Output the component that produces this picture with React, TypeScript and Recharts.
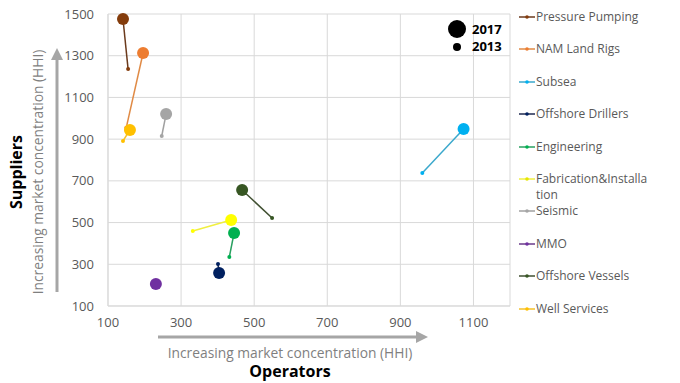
import { ScatterChart, Scatter, XAxis, YAxis, CartesianGrid } from 'recharts';

// HHI values per segment: [operators, suppliers] for 2013 and 2017
const segments = [
  'Pressure Pumping',
  'NAM Land Rigs',
  'Subsea',
  'Offshore Drillers',
  'Engineering',
  'Fabrication&Installation',
  'Seismic',
  'MMO',
  'Offshore Vessels',
  'Well Services',
];
const operators2013 = [155, 150, 960, 401, 432, 332, 247, null, 549, 141];
const suppliers2013 = [1236, 955, 738, 301, 335, 460, 915, null, 522, 891];
const operators2017 = [141, 196, 1073, 404, 445, 437, 259, 231, 467, 160];
const suppliers2017 = [1476, 1313, 949, 258, 450, 512, 1020, 205, 656, 944];

const dotColors = ['#843c0c', '#ed7d31', '#00b0f0', '#002060', '#00b050', '#ffff00', '#a5a5a5', '#7030a0', '#375623', '#ffc000'];
const lineColors = ['#6b3a1c', '#e08a45', '#3aa8cc', '#1f2a50', '#2aa060', '#f0ef40', '#a0a0a0', '#6a3a8a', '#3f4f30', '#f5c02a'];

const xTicks = [100, 300, 500, 700, 900, 1100];
const yTicks = [100, 300, 500, 700, 900, 1100, 1300, 1500];

const FONT = '"Open Sans", "Noto Sans", sans-serif';

const seriesData = segments.map((name, i) => {
  const pts: { x: number; y: number; year: number }[] = [];
  if (operators2017[i] != null) pts.push({ x: operators2017[i] as number, y: suppliers2017[i], year: 2017 });
  if (operators2013[i] != null) pts.push({ x: operators2013[i] as number, y: suppliers2013[i] as number, year: 2013 });
  return { name, pts, dot: dotColors[i], line: lineColors[i] };
});

function makeDot(color: string) {
  return (props: any) => {
    const { cx, cy, payload } = props;
    if (cx == null || cy == null) return <g />;
    const r = payload.year === 2017 ? 6 : 2;
    return <circle cx={cx} cy={cy} r={r} fill={color} />;
  };
}

export default function App() {
  return (
    <div style={{ position: 'absolute', left: 0, top: 0, width: 680, height: 383, background: '#fff', fontFamily: FONT }}>
      <ScatterChart width={680} height={383} margin={{ top: 14, right: 170, bottom: 47, left: 48 }}>
        <CartesianGrid stroke="#d9d9d9" strokeWidth={1} />
        <XAxis
          type="number"
          dataKey="x"
          domain={[100, 1200]}
          ticks={xTicks}
          height={30}
          axisLine={{ stroke: '#d9d9d9' }}
          tickLine={false}
          tickSize={0}
          tickMargin={12}
          tick={{ fill: '#595959', fontSize: 13, fontFamily: FONT }}
          allowDataOverflow
        />
        <YAxis
          type="number"
          dataKey="y"
          domain={[100, 1500]}
          ticks={yTicks}
          width={60}
          axisLine={{ stroke: '#d9d9d9' }}
          tickLine={false}
          tickSize={0}
          tickMargin={14}
          tick={{ fill: '#595959', fontSize: 13, fontFamily: FONT }}
        />
        {seriesData.map((s) => (
          <Scatter
            key={s.name}
            name={s.name}
            data={s.pts}
            line={{ stroke: s.line, strokeWidth: 1.5 }}
            shape={makeDot(s.dot)}
            isAnimationActive={false}
          />
        ))}
      </ScatterChart>

      {/* size key inside the plot */}
      <div style={{ position: 'absolute', left: 448, top: 20, fontSize: 13, fontWeight: 700, color: '#000', lineHeight: '17px' }}>
        <div style={{ display: 'flex', alignItems: 'center' }}>
          <span style={{ display: 'inline-block', width: 18, height: 18, borderRadius: 9, background: '#000', marginRight: 6 }} />
          2017
        </div>
        <div style={{ display: 'flex', alignItems: 'center' }}>
          <span style={{ display: 'inline-block', width: 8, height: 8, borderRadius: 4, background: '#000', margin: '0 11px 0 5px' }} />
          2013
        </div>
      </div>

      {/* series legend */}
      {seriesData.map((s, i) => (
        <div
          key={s.name}
          style={{ position: 'absolute', left: 518, top: 9 + i * 32.4, display: 'flex', alignItems: 'flex-start', fontSize: 12, color: '#595959', lineHeight: '16px' }}
        >
          <svg width={18} height={16} style={{ flex: 'none' }}>
            <line x1={1} y1={8} x2={17} y2={8} stroke={s.line} strokeWidth={1.5} />
            <circle cx={9} cy={8} r={1.8} fill={s.dot === '#ffff00' ? '#e6e600' : s.dot} />
          </svg>
          <span style={{ width: 113, wordBreak: 'break-all' }}>{s.name}</span>
        </div>
      ))}

      {/* axis captions and arrows */}
      <svg width={680} height={383} style={{ position: 'absolute', left: 0, top: 0, pointerEvents: 'none' }}>
        <defs>
          <marker id="ah" markerWidth="4" markerHeight="4" refX="2" refY="2" orient="auto">
            <path d="M0,0 L4,2 L0,4 Z" fill="#a6a6a6" />
          </marker>
        </defs>
        <line x1={57} y1={292} x2={57} y2={54} stroke="#a6a6a6" strokeWidth={3} markerEnd="url(#ah)" />
        <line x1={158} y1={337} x2={422} y2={337} stroke="#a6a6a6" strokeWidth={3} markerEnd="url(#ah)" />
        <text x={37} y={172} transform="rotate(-90 37 172)" textAnchor="middle" dominantBaseline="central" fontSize={13.8} fill="#7f7f7f" fontFamily={FONT}>
          Increasing market concentration (HHI)
        </text>
        <text x={16} y={172} transform="rotate(-90 16 172)" textAnchor="middle" dominantBaseline="central" fontSize={16} fontWeight={700} fill="#000" fontFamily={FONT}>
          Suppliers
        </text>
        <text x={290} y={352} textAnchor="middle" dominantBaseline="central" fontSize={13.8} fill="#7f7f7f" fontFamily={FONT}>
          Increasing market concentration (HHI)
        </text>
        <text x={290} y={371} textAnchor="middle" dominantBaseline="central" fontSize={16} fontWeight={700} fill="#000" fontFamily={FONT}>
          Operators
        </text>
      </svg>
    </div>
  );
}
